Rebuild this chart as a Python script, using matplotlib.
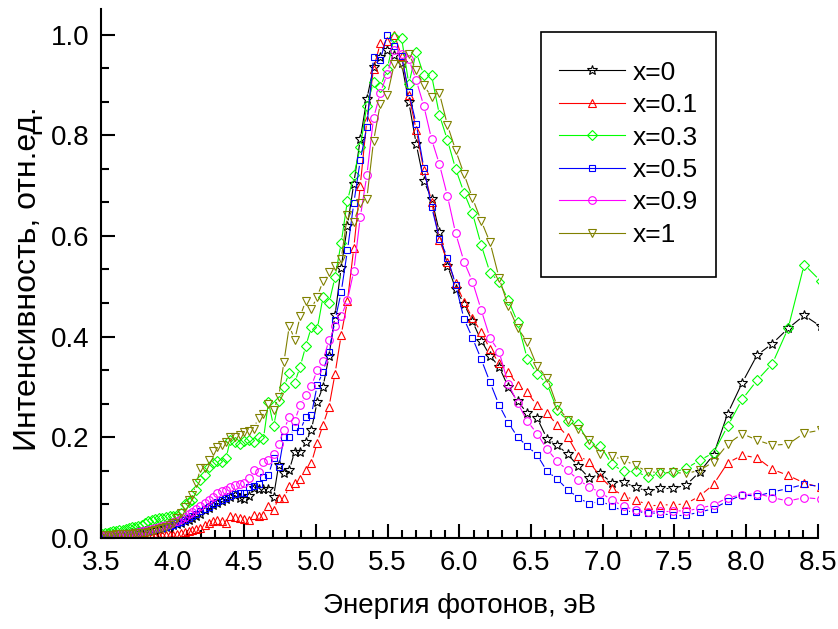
import numpy as np
import matplotlib
matplotlib.use("Agg")
import matplotlib.pyplot as plt
from matplotlib.collections import LineCollection
from matplotlib.lines import Line2D
from matplotlib.patches import Rectangle
from matplotlib.ticker import MultipleLocator, AutoMinorLocator

plt.rcParams["font.family"] = ["Liberation Sans", "DejaVu Sans"]

# сетка измерения: шаг 2 нм по длине волны -> энергия фотона
wavelength_nm = np.arange(353.5, 145.0, -2.0)
energy = 1239.84 / wavelength_nm

labels = ["x=0", "x=0.1", "x=0.3", "x=0.5", "x=0.9", "x=1"]

x0 = [
    0.003, 0.003, 0.004, 0.004, 0.005, 0.005, 0.006, 0.006, 0.007, 0.008,
    0.009, 0.010, 0.011, 0.012, 0.013, 0.014, 0.015, 0.016, 0.018, 0.019,
    0.021, 0.023, 0.025, 0.027, 0.030, 0.033, 0.036, 0.040, 0.044, 0.048,
    0.055, 0.060, 0.066, 0.070, 0.074, 0.078, 0.082, 0.086, 0.080, 0.078,
    0.084, 0.099, 0.097, 0.097, 0.096, 0.082, 0.145, 0.128, 0.135, 0.171,
    0.171, 0.190, 0.215, 0.270, 0.300, 0.361, 0.442, 0.537, 0.620, 0.704,
    0.792, 0.872, 0.935, 0.955, 0.970, 0.960, 0.944, 0.866, 0.782, 0.709,
    0.674, 0.607, 0.541, 0.495, 0.465, 0.430, 0.392, 0.362, 0.340, 0.300,
    0.271, 0.248, 0.238, 0.197, 0.184, 0.166, 0.142, 0.118, 0.128, 0.109,
    0.111, 0.100, 0.093, 0.098, 0.098, 0.105, 0.131, 0.165, 0.247, 0.308,
    0.363, 0.386, 0.416, 0.442, 0.420]

x01 = [
    0.002, 0.002, 0.002, 0.002, 0.002, 0.002, 0.002, 0.002, 0.002, 0.002,
    0.002, 0.002, 0.003, 0.003, 0.003, 0.003, 0.004, 0.004, 0.004, 0.005,
    0.005, 0.006, 0.006, 0.007, 0.009, 0.011, 0.013, 0.016, 0.018, 0.020,
    0.026, 0.030, 0.033, 0.035, 0.033, 0.030, 0.043, 0.041, 0.040, 0.038,
    0.036, 0.046, 0.043, 0.045, 0.064, 0.056, 0.079, 0.079, 0.102, 0.109,
    0.116, 0.134, 0.149, 0.189, 0.225, 0.260, 0.326, 0.403, 0.470, 0.576,
    0.700, 0.830, 0.932, 0.983, 0.988, 1.000, 0.958, 0.880, 0.810, 0.730,
    0.668, 0.592, 0.549, 0.507, 0.469, 0.436, 0.409, 0.375, 0.347, 0.330,
    0.303, 0.289, 0.263, 0.248, 0.224, 0.201, 0.163, 0.151, 0.121, 0.098,
    0.083, 0.075, 0.066, 0.066, 0.065, 0.068, 0.083, 0.106, 0.149, 0.164,
    0.159, 0.136, 0.124, 0.109, 0.100]

x03 = [
    0.008, 0.010, 0.010, 0.012, 0.013, 0.014, 0.015, 0.016, 0.018, 0.020,
    0.021, 0.022, 0.024, 0.026, 0.030, 0.033, 0.036, 0.037, 0.039, 0.040,
    0.042, 0.043, 0.044, 0.046, 0.050, 0.068, 0.072, 0.075, 0.095, 0.115,
    0.125, 0.140, 0.148, 0.152, 0.150, 0.158, 0.195, 0.190, 0.187, 0.192,
    0.194, 0.190, 0.200, 0.197, 0.270, 0.222, 0.272, 0.300, 0.328, 0.308,
    0.340, 0.381, 0.419, 0.414, 0.479, 0.466, 0.518, 0.586, 0.670, 0.720,
    0.776, 0.859, 0.906, 0.896, 0.932, 0.996, 0.994, 0.902, 0.965, 0.919,
    0.919, 0.840, 0.790, 0.733, 0.686, 0.645, 0.582, 0.527, 0.509, 0.473,
    0.428, 0.356, 0.326, 0.306, 0.254, 0.232, 0.226, 0.186, 0.183, 0.146,
    0.132, 0.132, 0.121, 0.128, 0.130, 0.138, 0.154, 0.169, 0.222, 0.275,
    0.313, 0.346, 0.416, 0.543, 0.510]

x05 = [
    0.003, 0.003, 0.004, 0.004, 0.005, 0.005, 0.006, 0.006, 0.007, 0.008,
    0.009, 0.010, 0.011, 0.012, 0.013, 0.014, 0.016, 0.017, 0.019, 0.020,
    0.022, 0.024, 0.026, 0.029, 0.032, 0.036, 0.040, 0.044, 0.048, 0.053,
    0.058, 0.062, 0.067, 0.071, 0.076, 0.080, 0.084, 0.087, 0.089, 0.090,
    0.100, 0.103, 0.107, 0.120, 0.125, 0.158, 0.140, 0.200, 0.200, 0.220,
    0.213, 0.240, 0.245, 0.303, 0.330, 0.370, 0.432, 0.488, 0.571, 0.665,
    0.750, 0.816, 0.955, 0.950, 1.000, 0.977, 0.958, 0.885, 0.822, 0.735,
    0.658, 0.594, 0.557, 0.503, 0.435, 0.397, 0.355, 0.309, 0.264, 0.229,
    0.200, 0.182, 0.165, 0.132, 0.117, 0.095, 0.080, 0.067, 0.073, 0.063,
    0.053, 0.052, 0.050, 0.048, 0.045, 0.045, 0.051, 0.058, 0.073, 0.085,
    0.083, 0.091, 0.098, 0.106, 0.102]

x09 = [
    0.003, 0.003, 0.004, 0.004, 0.005, 0.005, 0.006, 0.006, 0.007, 0.008,
    0.009, 0.010, 0.012, 0.013, 0.014, 0.016, 0.018, 0.019, 0.021, 0.023,
    0.025, 0.028, 0.031, 0.034, 0.038, 0.042, 0.047, 0.052, 0.057, 0.063,
    0.069, 0.076, 0.082, 0.089, 0.093, 0.095, 0.100, 0.105, 0.107, 0.108,
    0.118, 0.135, 0.130, 0.150, 0.155, 0.167, 0.187, 0.215, 0.240, 0.233,
    0.263, 0.283, 0.302, 0.333, 0.352, 0.393, 0.420, 0.440, 0.472, 0.530,
    0.637, 0.720, 0.834, 0.884, 0.922, 0.970, 0.962, 0.951, 0.909, 0.858,
    0.792, 0.742, 0.679, 0.605, 0.549, 0.509, 0.453, 0.397, 0.370, 0.306,
    0.268, 0.232, 0.207, 0.176, 0.152, 0.134, 0.115, 0.101, 0.090, 0.075,
    0.063, 0.055, 0.051, 0.054, 0.054, 0.053, 0.059, 0.065, 0.080, 0.085,
    0.088, 0.080, 0.073, 0.080, 0.077]

x1 = [
    0.005, 0.005, 0.006, 0.006, 0.006, 0.007, 0.007, 0.007, 0.008, 0.008,
    0.008, 0.009, 0.009, 0.010, 0.010, 0.012, 0.013, 0.015, 0.017, 0.019,
    0.022, 0.026, 0.030, 0.039, 0.050, 0.062, 0.075, 0.085, 0.108, 0.138,
    0.138, 0.155, 0.172, 0.180, 0.185, 0.190, 0.200, 0.200, 0.205, 0.210,
    0.212, 0.217, 0.239, 0.247, 0.266, 0.254, 0.280, 0.350, 0.421, 0.394,
    0.440, 0.471, 0.455, 0.479, 0.510, 0.529, 0.540, 0.554, 0.641, 0.628,
    0.665, 0.674, 0.788, 0.863, 0.879, 0.942, 0.940, 0.962, 0.929, 0.899,
    0.876, 0.883, 0.820, 0.770, 0.723, 0.675, 0.630, 0.587, 0.517, 0.460,
    0.417, 0.389, 0.341, 0.318, 0.261, 0.235, 0.217, 0.194, 0.167, 0.163,
    0.154, 0.144, 0.131, 0.130, 0.130, 0.128, 0.134, 0.151, 0.186, 0.207,
    0.194, 0.184, 0.186, 0.208, 0.214]

series = [x0, x01, x03, x05, x09, x1]
colors = ["#000000", "#ff0000", "#00ff00", "#0000ff", "#ff00ff", "#808000"]
markers = ["*", "^", "D", "s", "o", "v"]
msizes = [7.0, 6.0, 5.0, 5.0, 5.5, 6.0]


def gapped_line(ax, x, y, color, gap_px=5.5, lw=0.8):
    # линия с разрывами у маркеров (как в Origin)
    pts = ax.transData.transform(np.column_stack([x, y]))
    segs = []
    for p0, p1 in zip(pts[:-1], pts[1:]):
        d = p1 - p0
        L = np.hypot(d[0], d[1])
        if L <= 2 * gap_px:
            continue
        u = d / L
        segs.append([p0 + u * gap_px, p1 - u * gap_px])
    if not segs:
        return
    segs = np.array(segs).reshape(-1, 2)
    segs = ax.transData.inverted().transform(segs).reshape(-1, 2, 2)
    ax.add_collection(LineCollection(segs, colors=color, linewidths=lw))


fig = plt.figure(figsize=(8.38, 6.29), dpi=100)
ax = fig.add_axes([0.1202, 0.145, 0.8556, 0.840])
ax.set_xlim(3.5, 8.5)
ax.set_ylim(0, 1.05)

for vals, c, m, ms in zip(series, colors, markers, msizes):
    gapped_line(ax, energy, vals, c)
    ax.plot(energy, vals, linestyle="none", marker=m, ms=ms, mfc="none",
            mec=c, mew=0.8)

# оформление осей
for s in ["top", "right"]:
    ax.spines[s].set_visible(False)
for s in ["left", "bottom"]:
    ax.spines[s].set_linewidth(1.5)

ax.xaxis.set_major_locator(MultipleLocator(0.5))
ax.xaxis.set_minor_locator(AutoMinorLocator(5))
ax.yaxis.set_major_locator(MultipleLocator(0.2))
ax.yaxis.set_minor_locator(AutoMinorLocator(3))
ax.tick_params(which="both", direction="in", width=1.5, labelsize=20)
ax.tick_params(which="major", length=10)
ax.tick_params(which="minor", length=6)
ax.tick_params(axis="y", pad=8)
ax.tick_params(axis="x", pad=9)

ax.set_xlabel("Энергия фотонов, эВ", fontsize=20, labelpad=12)
ax.set_ylabel("Интенсивность, отн.ед.", fontsize=23)
ax.yaxis.set_label_coords(-0.08, 0.49)

handles = [Line2D([], [], color=c, lw=0.8, marker=m, ms=ms, mfc="none",
                  mec=c, mew=0.8)
           for c, m, ms in zip(colors, markers, msizes)]
leg = ax.legend(handles, labels, loc="upper left",
                bbox_to_anchor=(0.614, 0.938), borderaxespad=0,
                fontsize=19, frameon=False, handlelength=2.5,
                handletextpad=0.27, labelspacing=0.32, borderpad=0.7)

# рамка легенды: выше и ниже, чем стандартный отступ
fig.canvas.draw()
bb = leg.get_window_extent()
(fx0, fy0), (fx1, fy1) = fig.transFigure.inverted().transform(
    [[bb.x0, bb.y0 - 12], [bb.x1, bb.y1 + 10]])
fig.add_artist(Rectangle((fx0, fy0), fx1 - fx0, fy1 - fy0,
                         transform=fig.transFigure, fill=False,
                         edgecolor="black", linewidth=1.2, zorder=5))

fig.savefig("out.png", dpi=100)
